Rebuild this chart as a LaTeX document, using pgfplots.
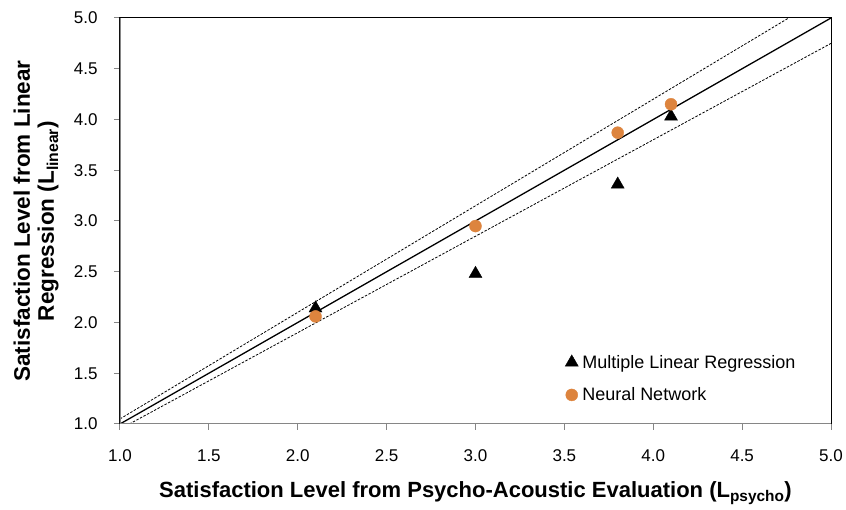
\documentclass[border=0pt]{standalone}
\usepackage{pgfplots}
\pgfplotsset{compat=1.18}
\usepackage{fontspec}
\setmainfont{Liberation Sans}
\definecolor{nnorange}{RGB}{221,132,62}
\definecolor{axgray}{RGB}{134,134,134}
\begin{document}
\begin{tikzpicture}
\begin{axis}[
  at={(0pt,0pt)}, anchor=south west,
  scale only axis, width=711pt, height=406pt,
  xmin=1, xmax=5, ymin=1, ymax=5,
  xtick={1,1.5,2,2.5,3,3.5,4,4.5,5},
  ytick={1,1.5,2,2.5,3,3.5,4,4.5,5},
  /pgf/number format/fixed,
  /pgf/number format/fixed zerofill,
  /pgf/number format/precision=1,
  /pgf/number format/assume math mode=true,
  tick label style={font=\fontsize{17}{20}\selectfont},
  x tick label style={yshift=-16pt},
  y tick label style={xshift=-13pt},
  tick align=outside, tick pos=left,
  major tick length=6pt,
  tick style={axgray, line width=1pt},
  axis line style={black, line width=1pt},
  xlabel={\textbf{Satisfaction Level from Psycho-Acoustic Evaluation (L\textsubscript{psycho})}},
  ylabel={\textbf{Satisfaction Level from Linear}\\\textbf{Regression (L\textsubscript{linear})}},
  every axis x label/.style={at={([yshift=-69pt]axis description cs:0.5,0)}, anchor=center, font=\fontsize{22}{26}\selectfont},
  every axis y label/.style={at={([xshift=-84pt]axis description cs:0,0.5)}, anchor=center, rotate=90, align=center, font=\fontsize{22.5}{24}\selectfont},
  legend style={draw=none, fill=none, at={(axis cs:3.487,1.72)}, anchor=north west,
    font=\fontsize{18}{21}\selectfont, row sep=14pt, column sep=2pt},
  legend cell align=left,
  legend image code/.code={\draw[#1] plot coordinates {(0pt,0pt)};},
]
\addplot[black, line width=1.3pt, forget plot] coordinates {(1,1) (5,5)};
\addplot[black, line width=0.8pt, dash pattern=on 2.5pt off 1.5pt, forget plot] coordinates {(1,1.05) (4.7619,5)};
\addplot[black, line width=0.8pt, dash pattern=on 2.5pt off 1.5pt, forget plot] coordinates {(1.0526,1) (5,4.75)};
\addplot[only marks, mark=triangle*, mark size=7.5pt, black] coordinates {
 (2.1,2.14) (3.0,2.48) (3.8,3.36) (4.1,4.03)};
\addlegendentry{Multiple Linear Regression}
\addplot[only marks, mark=*, mark size=6pt, color=nnorange, fill=nnorange] coordinates {
 (2.1,2.06) (3.0,2.95) (3.8,3.87) (4.1,4.15)};
\addlegendentry{Neural Network}
\draw[axgray, line width=1.3pt] (rel axis cs:0,1) -- (rel axis cs:0,0) -- (rel axis cs:1,0);
\end{axis}
\pgfresetboundingbox
\path[use as bounding box] (-120pt,-86pt) rectangle (726pt,424pt);
\end{tikzpicture}
\end{document}
